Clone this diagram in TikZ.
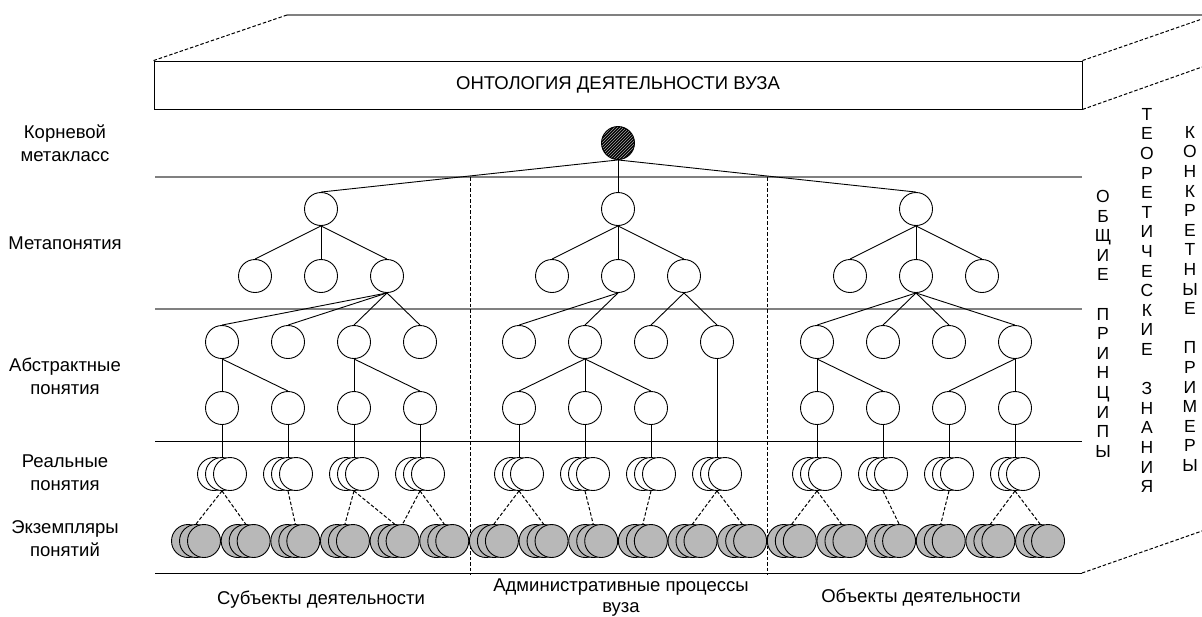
\documentclass[tikz,border=0pt]{standalone}
\usepackage{fontspec}
\setmainfont{Liberation Sans}
\usetikzlibrary{patterns}
\begin{document}
\begin{tikzpicture}[x=1pt,y=-1pt,
  cn/.style={circle,draw,line width=0.9pt,minimum size=33pt,inner sep=0pt,fill=white},
  inst/.style={cn,fill=black!28},
  tedge/.style={line width=0.9pt},
  dline/.style={line width=1pt,dash pattern=on 3.5pt off 2pt},
  lbl/.style={align=center,font=\fontsize{18.5}{23}\selectfont},
  vtxt/.style={align=center,anchor=north,inner sep=0pt,font=\fontsize{17.5}{19.6}\selectfont},
  glev/.style={line width=1.8pt,black!50},
  blev/.style={line width=1pt,black}]

\useasboundingbox (0,0) rectangle (1202,616);

% top slab
\node[draw,line width=0.9pt,minimum width=928pt,minimum height=48pt,inner sep=0pt,
  font=\fontsize{18.5}{22}\selectfont] (title) at (618,85) {ОНТОЛОГИЯ ДЕЯТЕЛЬНОСТИ ВУЗА};
\coordinate (bk1) at (287,15);
\coordinate (bk2) at (1202,15);
\coordinate (e1) at (1202,19);
\coordinate (e2) at (1202,67);
\coordinate (e3) at (1202,531);
\coordinate (e0) at (1082,573);
\draw[glev] (bk1) -- (bk2);
\draw[dline] (title.north west) -- (bk1);
\draw[dline] (title.north east) -- (e1);
\draw[dline] (title.south east) -- (e2);
\draw[dline] (e0) -- (e3);

% level lines
\foreach \y/\st in {177/glev,309/glev,441/blev,573/blev} {\draw[\st] (155,\y) -- (1082,\y);}
\coordinate (d1a) at (470,177); \coordinate (d1b) at (470,575);
\coordinate (d2a) at (767,177); \coordinate (d2b) at (767,575);
\draw[dline] (d1a) -- (d1b);
\draw[dline] (d2a) -- (d2b);

% root
\node[cn,fill=black,path picture={\fill[pattern=north east lines,pattern color=black!35]
  (path picture bounding box.south west) rectangle (path picture bounding box.north east);}]
  (root) at (618,143) {};

% sections
\foreach \n/\s in {1/0,2/297,3/595} {
  \node[cn] (m\n) at (321+\s,209) {};
  \foreach \j in {1,2,3} {\node[cn] (m\n-\j) at (189+66*\j+\s,276) {};}
  \foreach \c in {1,...,4} {
    \node[cn] (l\n-\c) at (156+66*\c+\s,342) {};
    \node[cn] (ra\n-\c) at (148+66*\c+\s,474) {};
    \node[cn] (r\n-\c) at (156+66*\c+\s,474) {};
    \node[cn] (rc\n-\c) at (164+66*\c+\s,474) {};
  }
}
\foreach \n/\c/\x in {1/1/222,1/2/288,1/3/354,1/4/420,2/1/519,2/2/585,2/3/651,3/1/817,3/2/883,3/3/949,3/4/1015}
  {\node[cn] (k\n-\c) at (\x,408) {};}

% instances
\foreach \k in {0,...,17} {
  \node[inst] (a\k) at (188+49.65*\k,541) {};
  \node[inst] (b\k) at (196+49.65*\k,541) {};
  \node[inst] (c\k) at (204+49.65*\k,541) {};
}

% edges
\foreach \n in {1,2,3} {
  \draw[tedge] (root.south) -- (m\n.north);
  \foreach \j in {1,2,3} {\draw[tedge] (m\n.south) -- (m\n-\j.north);}
}
\foreach \a/\b in {1-3/1-1,1-3/1-2,1-3/1-3,1-3/1-4,2-2/2-1,2-2/2-2,2-3/2-3,2-3/2-4,3-2/3-1,3-2/3-2,3-2/3-3,3-2/3-4}
  {\draw[tedge] (m\a.south) -- (l\b.north);}
\foreach \a/\b in {1-1/1-1,1-1/1-2,1-3/1-3,1-3/1-4,2-2/2-1,2-2/2-2,2-2/2-3,3-1/3-1,3-1/3-2,3-4/3-3,3-4/3-4}
  {\draw[tedge] (l\a.south) -- (k\b.north);}
\foreach \b in {1-1,1-2,1-3,1-4,2-1,2-2,2-3,3-1,3-2,3-3,3-4}
  {\draw[tedge] (k\b.south) -- (r\b.north);}
\draw[tedge] (l2-4.south) -- (r2-4.north);
\foreach \a/\b in {1-1/b0,1-1/b1,1-2/b2,1-3/b3,1-3/b4,1-4/c4,1-4/b5,2-1/b6,2-1/b7,2-2/b8,2-3/b9,2-4/b10,2-4/b11,3-1/b12,3-1/b13,3-2/c14,3-3/b15,3-4/b16,3-4/b17}
  {\draw[dline] (r\a.south) -- (\b.north);}

% left labels
\node[lbl] (t1) at (65,143) {Корневой\\метакласс};
\node[lbl] (t2) at (65,243) {Метапонятия};
\node[lbl] (t3) at (65,376) {Абстрактные\\понятия};
\node[lbl] (t4) at (65,473) {Реальные\\понятия};
\node[lbl] (t5) at (65,539) {Экземпляры\\понятий};

% bottom labels
\node[lbl] (s1) at (321,600) {Субъекты деятельности};
\node[lbl,font=\fontsize{18.5}{21}\selectfont] (s2) at (621,598) {Административные процессы\\вуза};
\node[lbl] (s3) at (921,598) {Объекты деятельности};

% vertical texts
\node[vtxt] (v1) at (1103,190) {О\\Б\\Щ\\И\\Е\\[19.6pt]П\\Р\\И\\Н\\Ц\\И\\П\\Ы};
\node[vtxt] (v2) at (1147,108) {Т\\Е\\О\\Р\\Е\\Т\\И\\Ч\\Е\\С\\К\\И\\Е\\[19.6pt]З\\Н\\А\\Н\\И\\Я};
\node[vtxt] (v3) at (1190,126) {К\\О\\Н\\К\\Р\\Е\\Т\\Н\\Ы\\Е\\[19.6pt]П\\Р\\И\\М\\Е\\Р\\Ы};
\end{tikzpicture}
\end{document}
